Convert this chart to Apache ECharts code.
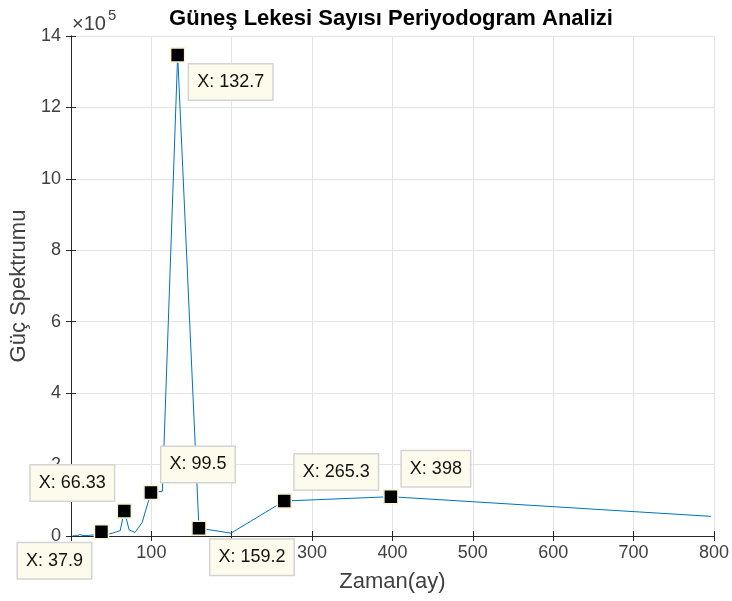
<!DOCTYPE html>
<html>
<head>
<meta charset="utf-8">
<script src="https://cdn.jsdelivr.net/npm/echarts@6/dist/echarts.min.js"></script>
<style>
  html, body { margin: 0; padding: 0; background: #fff; }
  #chart { width: 732px; height: 601px; }
</style>
</head>
<body>
<div id="chart"></div>
<script>
// periyot (ay) ve güç spektrumu değerleri
const periods = [2, 2.5, 3, 4, 5, 6, 8, 10, 11, 12, 13.3, 15, 17.7, 19.9, 22.1, 24.9, 28.4, 31.8, 34.6, 36.2,
  37.9, 39.8, 41.9, 44.2, 46.8, 49.75, 53.07, 56.86, 61.23, 66.33, 72.36, 79.6, 88.44, 99.5, 113.7,
  132.7, 159.2, 199, 265.3, 398, 796]
const power = [500, 400, 600, 500, 800, 700, 1000, 2500, 4000, 3500, 2000, 1500, 1200, 1800, 1500, 2500, 3000, 4000, 5000, 7000,
  12000, 8000, 6000, 5000, 6000, 7000, 9000, 12000, 15000, 70000, 17000, 10000, 37000, 122000, 125000,
  1347000, 22000, 8000, 98000, 110000, 55000]

// veri ipuçları (data tips)
const tipPeriods = [37.9, 66.33, 99.5, 132.7, 159.2, 265.3, 398]
const tipLabels = ['37.9', '66.33', '99.5', '132.7', '159.2', '265.3', '398']

const xTicks = [0, 100, 200, 300, 400, 500, 600, 700, 800]

const tipOffsets = [[-47, 29], [-52, -28], [47, -28], [53, 27], [53, 29], [52, -29], [45, -28]]

const font = 'Liberation Sans, Arial, Helvetica, sans-serif'
const axisColor = '#262626'
const labelColor = '#404040'

const lineData = periods.map((p, i) => [p, power[i]])
const tipData = tipPeriods.map((p, i) => ({
  value: [p, power[periods.indexOf(p)]],
  label: { offset: tipOffsets[i], formatter: 'X: ' + tipLabels[i] },
}))

const boxAxis = {
  axisLine: { show: true, lineStyle: { color: axisColor, width: 1 } },
  axisTick: { show: true, inside: true, length: 5, lineStyle: { color: axisColor } },
}

const option = {
  animation: false,
  backgroundColor: '#fff',
  textStyle: { fontFamily: font },
  title: {
    text: 'Güneş Lekesi Sayısı Periyodogram Analizi',
    left: 386,
    textAlign: 'center',
    top: 3,
    textStyle: { fontSize: 22, fontWeight: 'bold', color: '#000', fontFamily: font },
  },
  graphic: [{
    type: 'text',
    left: 72,
    top: 14,
    style: { text: '×10', fontSize: 20, fontFamily: font, fill: labelColor },
  }, {
    type: 'text',
    left: 108,
    top: 8,
    style: { text: '5', fontSize: 15, fontFamily: font, fill: labelColor },
  }],
  grid: { left: 71, right: 18, top: 36, bottom: 65, containLabel: false },
  xAxis: [{
    type: 'value',
    min: xTicks[0],
    max: xTicks[xTicks.length - 1],
    interval: 100,
    name: 'Zaman(ay)',
    nameLocation: 'middle',
    nameGap: 35,
    nameTextStyle: { fontSize: 22, color: labelColor, fontFamily: font },
    ...boxAxis,
    axisLabel: { fontSize: 18, color: labelColor, margin: 8, fontFamily: font },
    splitLine: { show: true, lineStyle: { color: '#e3e3e3', width: 1 } },
  }, {
    type: 'value',
    position: 'top',
    min: 0,
    max: 800,
    interval: 100,
    ...boxAxis,
    axisLabel: { show: false },
    splitLine: { show: false },
  }],
  yAxis: [{
    type: 'value',
    min: 0,
    max: 1400000,
    interval: 200000,
    name: 'Güç Spektrumu',
    nameLocation: 'middle',
    nameGap: 33,
    nameRotate: 90,
    nameTextStyle: { fontSize: 22, color: labelColor, fontFamily: font },
    ...boxAxis,
    axisLabel: { fontSize: 18, color: labelColor, margin: 10, fontFamily: font, formatter: v => String(v / 100000) },
    splitLine: { show: true, lineStyle: { color: '#e3e3e3', width: 1 } },
  }, {
    type: 'value',
    position: 'right',
    min: 0,
    max: 1400000,
    interval: 200000,
    ...boxAxis,
    axisLabel: { show: false },
    splitLine: { show: false },
  }],
  series: [{
    type: 'line',
    data: lineData,
    showSymbol: false,
    lineStyle: { color: '#0072BD', width: 1 },
    itemStyle: { color: '#0072BD' },
    z: 3,
  }, {
    type: 'scatter',
    data: tipData,
    symbol: 'rect',
    symbolSize: 14,
    itemStyle: { color: '#000', borderColor: '#f8f4d4', borderWidth: 1.5, opacity: 1 },
    emphasis: { disabled: true },
    label: {
      show: true,
      position: 'inside',
      fontSize: 18,
      lineHeight: 20,
      color: '#111',
      fontFamily: font,
      backgroundColor: '#fdfcec',
      borderColor: '#d4d4d4',
      borderWidth: 1.5,
      padding: [8, 8, 7, 8],
    },
    z: 5,
  }],
}

const myChart = echarts.init(document.getElementById('chart'))
myChart.setOption(option)
</script>
</body>
</html>
